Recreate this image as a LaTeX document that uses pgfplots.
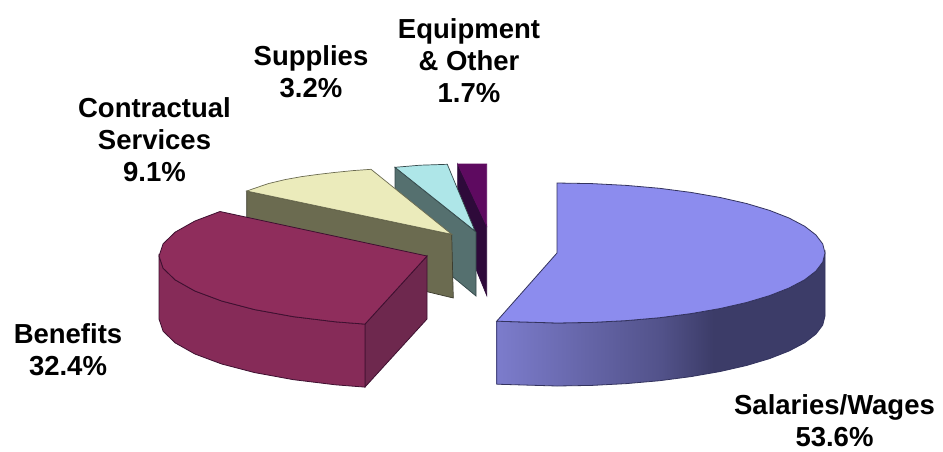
\documentclass[border=0pt]{standalone}
\usepackage{fontspec}
\setmainfont{Liberation Sans}
\usepackage{pgfplots}
\pgfplotsset{compat=1.18}

\definecolor{salTop}{HTML}{8C8CEE}
\definecolor{salEdge}{HTML}{33335E}
\definecolor{salA}{HTML}{7C7CCC}
\definecolor{salB}{HTML}{52528A}
\definecolor{salC}{HTML}{3C3C68}
\definecolor{benTop}{HTML}{8F2D5C}
\definecolor{benFront}{HTML}{862B58}
\definecolor{benRight}{HTML}{6E284E}
\definecolor{benEdge}{HTML}{3E1030}
\definecolor{conTop}{HTML}{EBEBBB}
\definecolor{conSide}{HTML}{6B6B50}
\definecolor{conEdge}{HTML}{3C3C2E}
\definecolor{supTop}{HTML}{AEE6E8}
\definecolor{supSide}{HTML}{55706F}
\definecolor{supEdge}{HTML}{34484A}
\definecolor{equTop}{HTML}{5E0A60}
\definecolor{equSide}{HTML}{2E0A3A}

\pgfdeclarehorizontalshading{salside}{100bp}{
  color(0bp)=(salA); color(25bp)=(salA); color(50bp)=(salB);
  color(58bp)=(salC); color(100bp)=(salC)}

\newcommand{\lbl}[2]{\node[align=center,inner sep=0pt,font=\fontsize{27.5}{32}\selectfont\bfseries] at (axis cs:#1) {#2};}

\begin{document}
\begin{tikzpicture}
\begin{axis}[
    width=943pt,
    height=451pt,
    scale only axis,
    hide axis,
    clip=false,
    xmin=0, xmax=943,
    ymin=0, ymax=451,
    y dir=reverse,
  ]
  % keeps the page at full size
  \addplot[draw=none, fill=white] coordinates {(0,0) (943,0) (943,451) (0,451)} --cycle;

  % equipment & other
  \addplot[fill=equSide, draw=equSide, line width=0.6pt] coordinates {
    (457.7,164) (486.7,226) (486.7,295.5) (477,271.7) (457.7,220)} --cycle;
  \addplot[fill=equTop, draw=equTop, line width=0.6pt] coordinates {
    (457.7,164) (486.7,164) (486.7,226)} --cycle;

  % supplies
  \addplot[fill=supSide, draw=supEdge, line width=0.7pt] coordinates {
    (395,167.3) (476,232) (476,296) (453,277) (395,230)} --cycle;
  \addplot[fill=supTop, draw=supEdge, line width=0.7pt] coordinates {
    (395,167.3) (420,165.2) (447.3,164.3) (475,231)} --cycle;

  % contractual services
  \addplot[fill=conSide, draw=conEdge, line width=0.7pt] coordinates {
    (246.7,191) (451.7,234.3) (453.3,298) (420,290) (246.7,225)} --cycle;
  \addplot[fill=conTop, draw=conSide, line width=0.7pt] coordinates {
    (246.7,191) (268.3,183.6) (285,179.6) (301.7,176.6) (318,174.4) (335,172.4)
    (353,170.6) (371,169.3) (451.7,234.3)} --cycle;

  % benefits
  \addplot[fill=benRight, draw=benEdge, line width=0.8pt] coordinates {
    (365,324) (427,256) (427,319) (365,387)} --cycle;
  \addplot[fill=benFront, draw=benEdge, line width=0.8pt] coordinates {
    (365,324.1) (335.3,321.8) (293,316.6) (254.7,309.6) (221.7,301) (194.9,291)
    (175.2,279.9) (163.1,268.2) (159,256) (159,319) (163.1,331.2) (175.2,342.9)
    (194.9,354) (221.7,364) (254.7,372.6) (293,379.6) (335.3,384.8) (365,387.1)} --cycle;
  \addplot[fill=benTop, draw=benEdge, line width=0.8pt] coordinates {
    (220,211.5) (427,256) (365,324.1) (335.3,321.8) (293,316.6) (254.7,309.6)
    (221.7,301) (194.9,291) (175.2,279.9) (163.1,268.2) (159,256) (163.1,243.8)
    (175.2,232.1) (194.9,221)} --cycle;

  % salaries/wages
  \addplot[shading=salside, draw=salEdge, line width=0.8pt] coordinates {
    (496.7,321.2) (557,323) (592,322.4) (626.4,320.6) (659.6,317.7) (691,313.6)
    (720.2,308.5) (746.5,302.5) (769.6,295.6) (789,288) (804.6,279.8) (815.9,271.1)
    (822.7,262.1) (825,253) (825,316) (822.7,325.1) (815.9,334.1) (804.6,342.8)
    (789,351) (769.6,358.6) (746.5,365.5) (720.2,371.5) (691,376.6) (659.6,380.7)
    (626.4,383.6) (592,385.4) (557,386) (496.7,384.2)} --cycle;
  \addplot[fill=salTop, draw=salEdge, line width=0.8pt] coordinates {
    (557,183) (592,183.6) (626.4,185.4) (659.6,188.3) (691,192.4) (720.2,197.5)
    (746.5,203.5) (769.6,210.4) (789,218) (804.6,226.2) (815.9,234.9) (822.7,243.9)
    (825,253) (822.7,262.1) (815.9,271.1) (804.6,279.8) (789,288) (769.6,295.6)
    (746.5,302.5) (720.2,308.5) (691,313.6) (659.6,317.7) (626.4,320.6) (592,322.4)
    (557,323) (496.7,321.2) (557,253)} --cycle;

  % labels
  \lbl{469,61}{Equipment\\\& Other\\1.7\%}
  \lbl{311,72}{Supplies\\3.2\%}
  \lbl{154.5,140}{Contractual\\Services\\9.1\%}
  \lbl{68,350}{Benefits\\32.4\%}
  \lbl{834.5,421}{Salaries/Wages\\53.6\%}
\end{axis}
\end{tikzpicture}
\end{document}
